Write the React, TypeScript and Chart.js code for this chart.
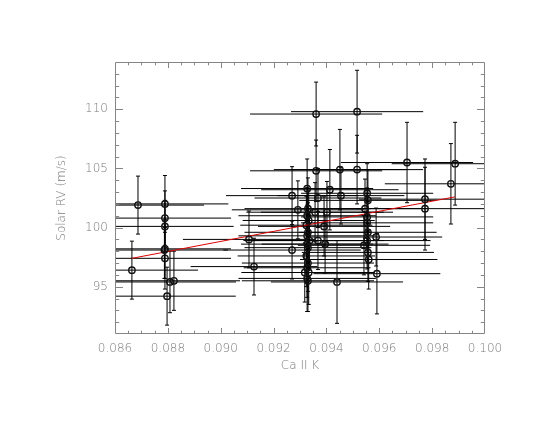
import React, { useEffect, useRef } from 'react';
import { Chart, registerables } from 'chart.js';

Chart.register(...registerables);

// Ca II K index values
const xVals = [
  0.08664, 0.08687, 0.08789, 0.08789, 0.08789, 0.08789, 0.08787, 0.08789, 0.08797, 0.08808, 0.08823,
  0.09107, 0.09126,
  0.09270, 0.09270, 0.09292, 0.09318,
  0.09327, 0.09330, 0.09327, 0.09333, 0.09324, 0.09330, 0.09327, 0.09336, 0.09327, 0.09330, 0.09324,
  0.09330, 0.09327, 0.09333, 0.09327, 0.09330,
  0.09361, 0.09361, 0.09368, 0.09357, 0.09368, 0.09391, 0.09395, 0.09402, 0.09413,
  0.09451, 0.09455, 0.09440, 0.09516, 0.09516,
  0.09554, 0.09557, 0.09546, 0.09554, 0.09554, 0.09557, 0.09554, 0.09542, 0.09557, 0.09560,
  0.09588, 0.09591,
  0.09705, 0.09773, 0.09773, 0.09871, 0.09887,
];
// Solar RV values (m/s)
const yVals = [
  96.4, 101.9, 102.0, 100.8, 100.1, 98.2, 98.1, 97.4, 94.2, 95.4, 95.5,
  99.0, 96.7,
  102.7, 98.1, 101.5, 96.2,
  103.3, 101.6, 101.0, 100.6, 100.2, 99.6, 99.3, 98.9, 98.6, 98.3, 97.6,
  97.0, 96.6, 96.2, 95.7, 95.5,
  109.6, 104.8, 102.5, 101.3, 98.9, 100.1, 98.6, 101.3, 103.2,
  104.9, 102.7, 95.4, 109.8, 104.9,
  102.9, 102.3, 101.6, 100.9, 100.4, 99.6, 98.9, 98.5, 97.9, 97.3,
  99.2, 96.1,
  105.5, 102.4, 101.6, 103.7, 105.4,
];
const xErrs = [
  0.0025, 0.0025, 0.0024, 0.0025, 0.0026, 0.0025, 0.0024, 0.0025, 0.0026, 0.0025, 0.0025,
  0.0025, 0.0024,
  0.0025, 0.0026, 0.0025, 0.0024,
  0.0025, 0.0024, 0.0026, 0.0025, 0.0025, 0.0024, 0.0026, 0.0025, 0.0025, 0.0024, 0.0026,
  0.0025, 0.0024, 0.0025, 0.0026, 0.0025,
  0.0025, 0.0025, 0.0024, 0.0026, 0.0025, 0.0025, 0.0024, 0.0025, 0.0026,
  0.0025, 0.0024, 0.0025, 0.0025, 0.0025,
  0.0025, 0.0026, 0.0024, 0.0025, 0.0025, 0.0026, 0.0024, 0.0025, 0.0025, 0.0026,
  0.0025, 0.0024,
  0.0025, 0.0025, 0.0026, 0.0025, 0.0024,
];
const yErrs = [
  2.45, 2.45, 2.4, 2.3, 2.2, 2.5, 2.4, 2.6, 2.45, 2.6, 2.5,
  2.4, 2.4,
  2.45, 2.45, 2.45, 2.5,
  2.5, 2.6, 2.4, 2.5, 2.45, 2.5, 2.6, 2.4, 2.5, 2.5, 2.6,
  2.4, 2.5, 2.7, 2.8, 2.6,
  2.7, 2.6, 2.5, 2.5, 2.45, 2.5, 2.45, 2.6, 3.4,
  3.4, 2.4, 3.5, 3.5, 2.9,
  2.5, 2.6, 2.5, 2.45, 2.5, 2.6, 2.4, 2.5, 2.45, 2.5,
  2.45, 3.4,
  3.4, 3.4, 3.5, 3.4, 3.5,
];
// Linear fit end points
const fitX = [0.08664, 0.09887];
const fitY = [97.4, 102.6];

const xTickLabels = ['0.086', '0.088', '0.090', '0.092', '0.094', '0.096', '0.098', '0.100'];
const yTickLabels = ['95', '100', '105', '110'];

const X_MIN = 0.086, X_MAX = 0.1, Y_MIN = 91, Y_MAX = 114;
const AXIS_COLOR = '#858585';
const TEXT_COLOR = '#7a7a7a';

const framePlugin = {
  id: 'frame',
  beforeDatasetsDraw(chart: any) {
    const { ctx, chartArea: a, scales } = chart;
    const xs = scales.x, ys = scales.y;
    ctx.save();
    ctx.beginPath();
    ctx.rect(a.left, a.top, a.right - a.left, a.bottom - a.top);
    ctx.clip();
    ctx.strokeStyle = '#000';
    ctx.lineWidth = 1;
    for (let i = 0; i < xVals.length; i++) {
      const px = xs.getPixelForValue(xVals[i]);
      const py = ys.getPixelForValue(yVals[i]);
      const x1 = xs.getPixelForValue(xVals[i] - xErrs[i]);
      const x2 = xs.getPixelForValue(xVals[i] + xErrs[i]);
      const y1 = ys.getPixelForValue(yVals[i] - yErrs[i]);
      const y2 = ys.getPixelForValue(yVals[i] + yErrs[i]);
      ctx.beginPath();
      ctx.moveTo(x1, py);
      ctx.lineTo(x2, py);
      ctx.moveTo(px, y1);
      ctx.lineTo(px, y2);
      ctx.moveTo(px - 2, y1);
      ctx.lineTo(px + 2, y1);
      ctx.moveTo(px - 2, y2);
      ctx.lineTo(px + 2, y2);
      ctx.stroke();
    }
    ctx.restore();
  },
  afterDraw(chart: any) {
    const { ctx, chartArea: a, scales } = chart;
    const xs = scales.x, ys = scales.y;
    const L = Math.round(a.left) + 0.5, R = Math.round(a.right) - 0.5;
    const T = Math.round(a.top) + 0.5, B = Math.round(a.bottom) - 0.5;
    ctx.save();
    ctx.strokeStyle = AXIS_COLOR;
    ctx.lineWidth = 1;
    ctx.beginPath();
    ctx.rect(L, T, R - L, B - T);
    ctx.stroke();
    ctx.beginPath();
    for (let k = 1; k < 28; k++) {
      const v = X_MIN + k * 0.0005;
      const p = Math.round(xs.getPixelForValue(v)) + 0.5;
      const len = k % 4 === 0 ? 5.5 : 2.8;
      ctx.moveTo(p, B); ctx.lineTo(p, B - len);
      ctx.moveTo(p, T); ctx.lineTo(p, T + len);
    }
    for (let v = Y_MIN + 1; v < Y_MAX; v++) {
      const p = Math.round(ys.getPixelForValue(v)) + 0.5;
      const len = v % 5 === 0 ? 7.5 : 3.7;
      ctx.moveTo(L, p); ctx.lineTo(L + len, p);
      ctx.moveTo(R, p); ctx.lineTo(R - len, p);
    }
    ctx.stroke();
    ctx.restore();
  },
};

export default function App() {
  const ref = useRef<HTMLCanvasElement | null>(null);
  useEffect(() => {
    if (!ref.current) return;
    const font = { family: 'DejaVu Sans', size: 12, weight: 200 as any };
    const chart = new Chart(ref.current, {
      type: 'scatter',
      data: {
        datasets: [
          {
            type: 'line',
            label: 'fit',
            data: fitX.map((x, i) => ({ x, y: fitY[i] })),
            borderColor: '#e00000',
            borderWidth: 1,
            pointRadius: 0,
            fill: false,
            order: 1,
          } as any,
          {
            label: 'data',
            data: xVals.map((x, i) => ({ x, y: yVals[i] })),
            pointStyle: 'circle',
            pointRadius: 3.2,
            borderWidth: 1.4,
            borderColor: '#111',
            backgroundColor: 'rgba(0,0,0,0)',
            order: 0,
          },
        ],
      },
      options: {
        animation: false,
        responsive: true,
        maintainAspectRatio: false,
        layout: { padding: { left: 0, top: 62, right: 60, bottom: 0 } },
        plugins: { legend: { display: false }, tooltip: { enabled: false } },
        scales: {
          x: {
            type: 'linear',
            min: X_MIN,
            max: X_MAX,
            grid: { display: false, drawTicks: false },
            border: { display: false },
            afterFit: (s: any) => { s.height = 87; },
            afterBuildTicks: (s: any) => {
              s.ticks = xTickLabels.map((t) => ({ value: parseFloat(t) }));
            },
            ticks: {
              color: TEXT_COLOR,
              font,
              padding: 8,
              maxRotation: 0,
              autoSkip: false,
              callback: (_v: any, i: number) => xTickLabels[i],
            },
            title: {
              display: true,
              text: 'Ca II K',
              color: TEXT_COLOR,
              font,
              padding: { top: 0, bottom: 48 },
            },
          },
          y: {
            type: 'linear',
            min: Y_MIN,
            max: Y_MAX,
            grid: { display: false, drawTicks: false },
            border: { display: false },
            afterFit: (s: any) => { s.width = 115; },
            afterBuildTicks: (s: any) => {
              s.ticks = yTickLabels.map((t) => ({ value: parseFloat(t) }));
            },
            ticks: {
              color: TEXT_COLOR,
              font,
              padding: 7,
              autoSkip: false,
              callback: (_v: any, i: number) => yTickLabels[i],
            },
            title: {
              display: true,
              text: 'Solar RV (m/s)',
              color: TEXT_COLOR,
              font,
              padding: { top: 55, bottom: 0 },
            },
          },
        },
      },
      plugins: [framePlugin],
    });
    return () => chart.destroy();
  }, []);
  return (
    <div style={{ position: 'fixed', left: 0, top: 0, width: 545, height: 421, background: '#fff' }}>
      <canvas ref={ref} />
    </div>
  );
}
